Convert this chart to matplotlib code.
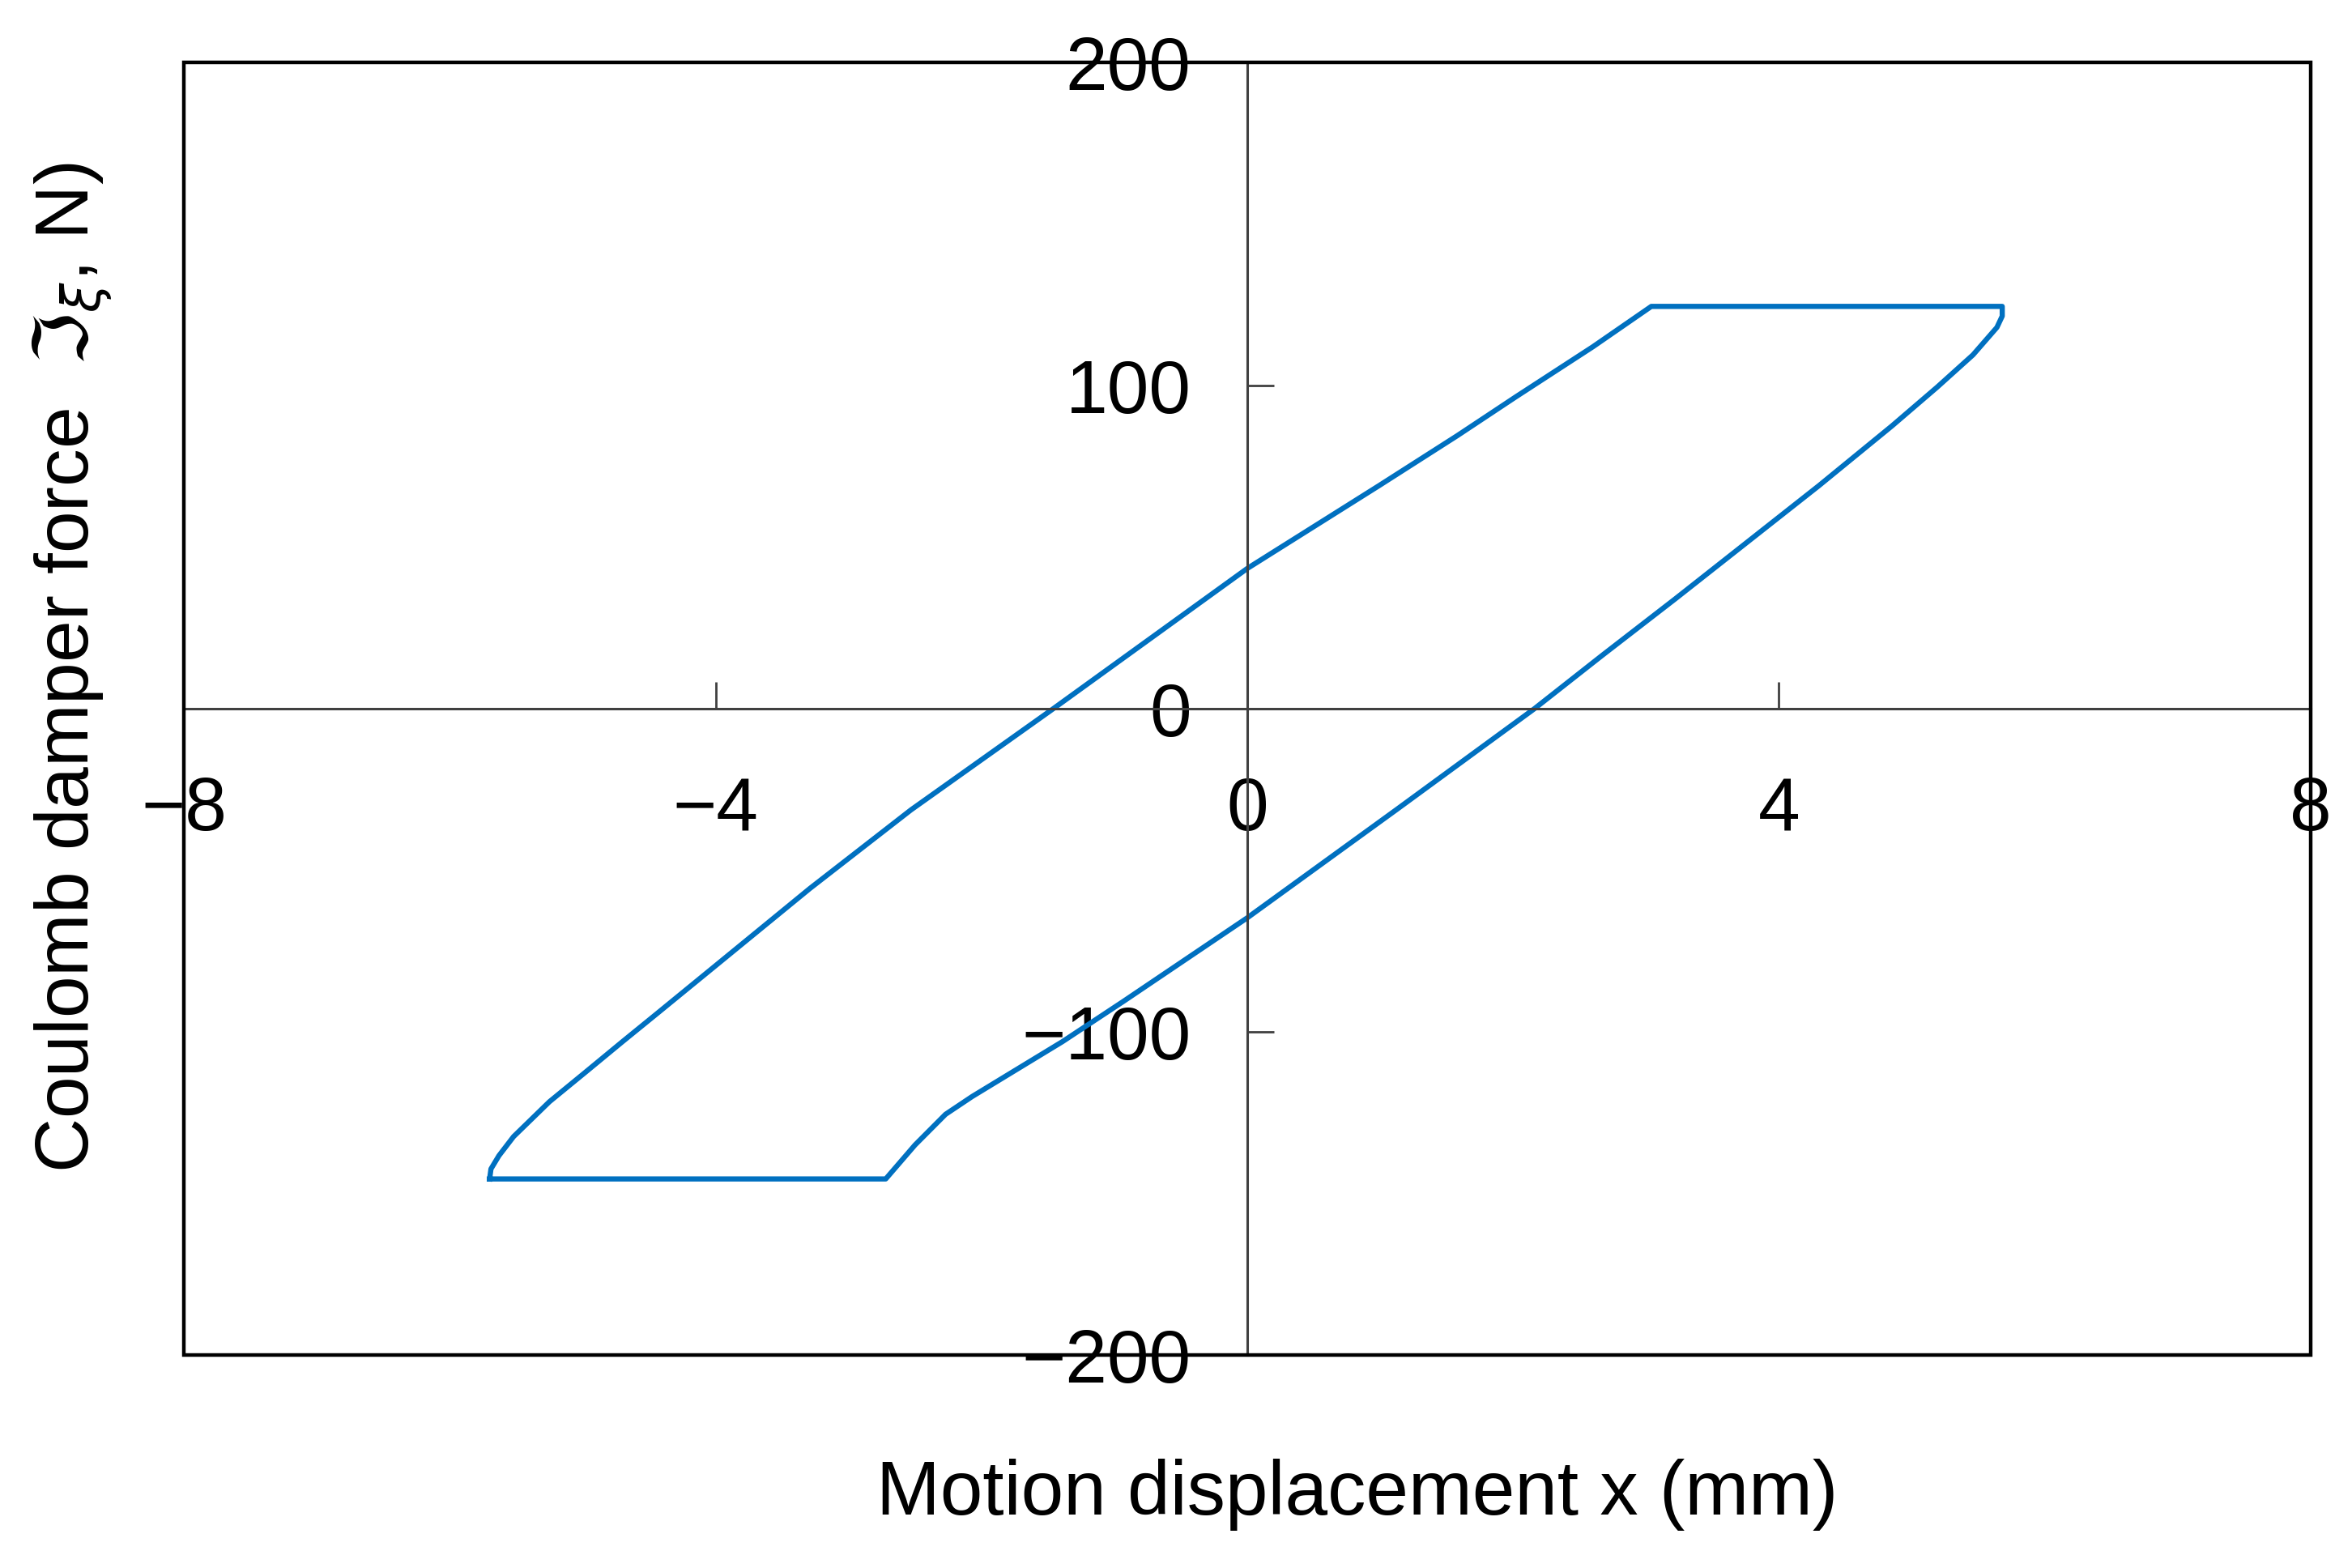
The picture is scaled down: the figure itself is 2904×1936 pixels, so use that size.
import matplotlib
matplotlib.use("Agg")
import matplotlib.pyplot as plt
from matplotlib.patches import Rectangle

plt.rcParams['font.family'] = ['Liberation Sans', 'DejaVu Sans']
plt.rcParams['mathtext.fontset'] = 'dejavusans'

# hysteresis loop (x in mm, force in N)
loop_x = [-5.70, -5.69, -5.63, -5.52, -5.25, -4.98, -4.70, -4.44, -4.00, -3.29, -2.53, -1.46,
          0.00, 0.99, 1.58, 2.02, 2.60, 3.04,
          5.68, 5.68, 5.64, 5.46, 5.19, 4.85, 4.30, 3.76, 3.22, 2.67, 2.16, 1.12, 0.00,
          -0.93, -1.39, -2.07, -2.27, -2.50, -2.72, -5.70]
loop_y = [-145.5, -142.4, -138.3, -132.4, -121.6, -112.5, -103.0, -94.3, -79.5, -55.6, -31.3, 0.0,
          43.4, 69.0, 84.5, 96.5, 112.0, 124.5,
          124.5, 121.5, 118.0, 109.5, 99.5, 87.5, 69.0, 51.5, 34.0, 16.5, 0.0, -31.3, -64.7,
          -90.5, -103.0, -120.0, -125.5, -135.0, -145.5, -145.5]

x_ticks = [-8, -4, 0, 4, 8]
y_ticks = [-200, -100, 0, 100, 200]

fig = plt.figure(figsize=(14.52, 9.68), dpi=200)
ax = fig.add_axes([0.0782, 0.1358, 0.9042, 0.8244])

ax.plot(loop_x, loop_y, color="#0070C0", lw=2.3, solid_joinstyle="round")

ax.set_xlim(-8, 8)
ax.set_ylim(-200, 200)

# axes cross at zero, box drawn around
for side in ("top", "right"):
    ax.spines[side].set_visible(False)
for side in ("left", "bottom"):
    ax.spines[side].set_position(("data", 0))
    ax.spines[side].set_color("#404040")
    ax.spines[side].set_linewidth(1.1)
ax.add_patch(Rectangle((0, 0), 1, 1, transform=ax.transAxes, fill=False,
                       lw=1.6, edgecolor="black", clip_on=False, zorder=3))

ax.set_xticks(x_ticks)
ax.set_yticks(y_ticks)
ax.set_xticklabels([str(v).replace("-", "\u2212") for v in x_ticks])
ax.set_yticklabels([str(v).replace("-", "\u2212") for v in y_ticks])
ax.tick_params(axis="x", direction="in", length=12, width=1.0, color="#404040",
               labelsize=33.5, pad=30)
ax.tick_params(axis="y", direction="in", length=12, width=1.0, color="#404040",
               labelsize=33.5, pad=25)

fig.text(1676 / 2904, 1 - 1846 / 1936, "Motion displacement x (mm)",
         ha="center", va="center", fontsize=34)
fig.text(89 / 2904, 1 - 824 / 1936, r"Coulomb damper force  $\Im_{\xi}$, N)",
         ha="center", va="center", rotation=90, fontsize=33.5)

fig.savefig("out.png", dpi=200)
